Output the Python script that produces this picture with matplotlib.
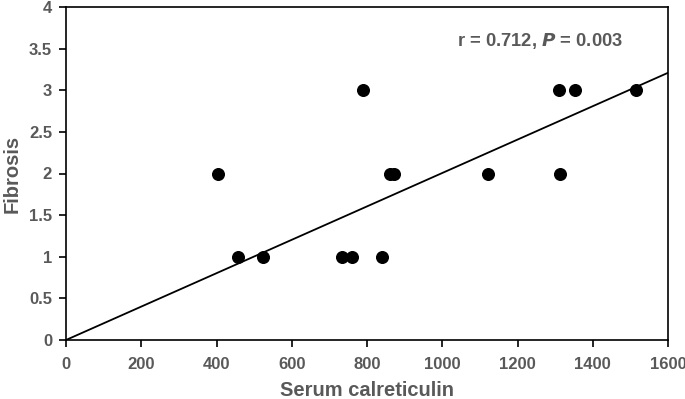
import matplotlib
matplotlib.use('Agg')
import matplotlib.pyplot as plt

plt.rcParams['font.family'] = ['Liberation Sans', 'DejaVu Sans']

calreticulin = [405, 458, 524, 733, 759, 790, 839, 860, 872, 1122, 1310, 1313, 1353, 1514]
fibrosis = [2, 1, 1, 1, 1, 3, 1, 2, 2, 2, 3, 2, 3, 3]
fit_x = [0, 1600]
slope = 0.002006

gray = '#595959'
fig = plt.figure(figsize=(6.85, 3.99), dpi=100)
ax = fig.add_axes([66 / 685, 1 - 340 / 399, 602 / 685, 333 / 399])

ax.plot(fit_x, [slope * v for v in fit_x], color='black', lw=1.3)
ax.scatter(calreticulin, fibrosis, s=70, color='black', zorder=3)

ax.set_xlim(0, 1600)
ax.set_ylim(0, 4)
ax.set_xticks(range(0, 1601, 200))
ax.set_yticks([0, 0.5, 1, 1.5, 2, 2.5, 3, 3.5, 4])
ax.set_yticklabels(['0', '0.5', '1', '1.5', '2', '2.5', '3', '3.5', '4'])
for s in ax.spines.values():
    s.set_linewidth(1.2)
ax.tick_params(direction='out', length=5, width=1.2, labelsize=12,
               labelcolor=gray, pad=5)
ax.tick_params(axis='x', pad=7)
for lab in ax.get_xticklabels() + ax.get_yticklabels():
    lab.set_fontweight('bold')

ax.set_xlabel('Serum calreticulin', fontsize=14.5, fontweight='bold', color=gray, labelpad=7)
ax.set_ylabel('Fibrosis', fontsize=14.5, fontweight='bold', color=gray, labelpad=5)

ax.text(0.649, 0.897, r'r = 0.712, $\bfit{P}$ = 0.003', transform=ax.transAxes,
        fontsize=13.2, fontweight='bold', color=gray, va='center')

fig.savefig('out.png', dpi=100)
